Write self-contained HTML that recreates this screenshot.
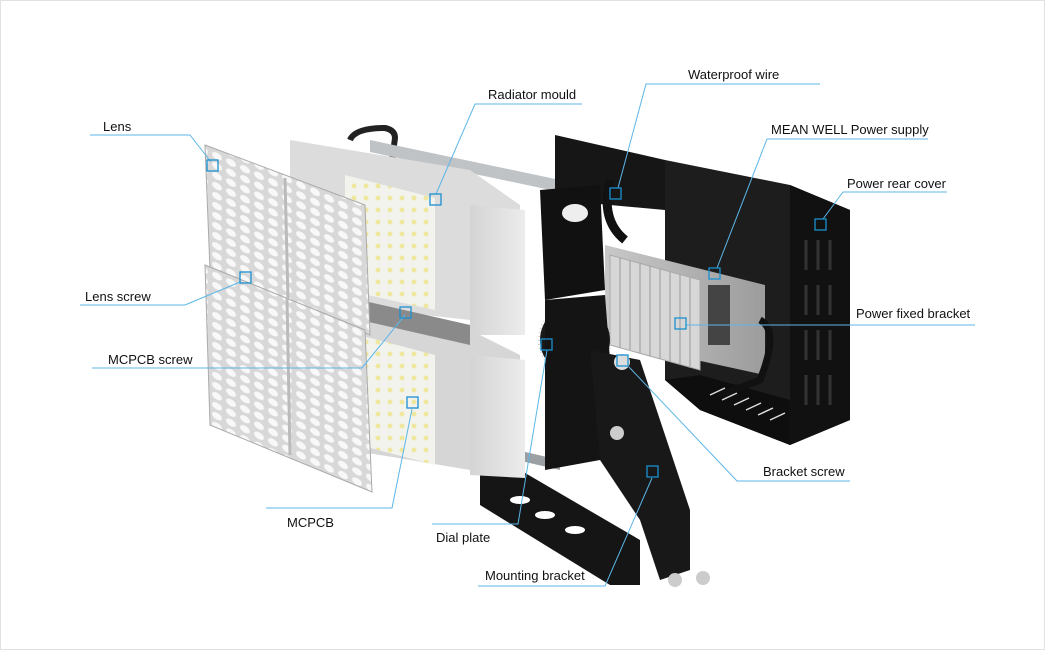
<!DOCTYPE html>
<html><head><meta charset="utf-8"><style>
html,body{margin:0;padding:0;background:#fff;}
svg{display:block}
text{font-family:"Liberation Sans",sans-serif;font-size:13px;fill:#111}
</style></head><body>
<svg width="1045" height="650" viewBox="0 0 1045 650" xmlns="http://www.w3.org/2000/svg">
<defs>
<linearGradient id="rad" x1="0" y1="0" x2="1" y2="0"><stop offset="0" stop-color="#d4d4d4"/><stop offset="1" stop-color="#ececec"/></linearGradient>
<linearGradient id="lens" x1="0" y1="0" x2="1" y2="1"><stop offset="0" stop-color="#e6e6e6"/><stop offset="1" stop-color="#b9b9b9"/></linearGradient>
<linearGradient id="ps" x1="0" y1="0" x2="1" y2="0"><stop offset="0" stop-color="#c8c8c8"/><stop offset="1" stop-color="#9c9c9c"/></linearGradient>
<pattern id="leds" width="12" height="12" patternUnits="userSpaceOnUse"><rect width="12" height="12" fill="#f3f3ee"/><circle cx="6" cy="6" r="2.5" fill="#efe7a0"/></pattern>
<pattern id="lensp" width="14" height="10" patternUnits="userSpaceOnUse" patternTransform="skewY(25)"><rect width="14" height="10" fill="#d8d8d8"/><ellipse cx="7" cy="5" rx="5" ry="3.5" fill="#f8f8f8"/></pattern>
</defs>
<rect x="0.5" y="0.5" width="1044" height="649" fill="#fff" stroke="#e2e2e2"/>

<!-- rods / handle -->
<path d="M350 140 Q355 128 385 128 Q395 130 395 138 L392 160" fill="none" stroke="#222" stroke-width="6"/>
<polygon points="370,140 560,180 560,192 370,152" fill="#bfc3c6"/>
<polygon points="430,430 560,460 560,470 430,440" fill="#9aa0a4"/>

<!-- rear cover -->
<polygon points="555,135 665,160 665,210 555,200" fill="#161616"/>
<polygon points="665,160 790,185 850,210 850,420 790,445 700,410 665,380" fill="#1d1d1d"/>
<polygon points="790,185 850,210 850,420 790,445" fill="#111"/>
<g stroke="#333" stroke-width="3">
<line x1="806" y1="240" x2="806" y2="270"/><line x1="818" y1="240" x2="818" y2="270"/><line x1="830" y1="240" x2="830" y2="270"/>
<line x1="806" y1="285" x2="806" y2="315"/><line x1="818" y1="285" x2="818" y2="315"/><line x1="830" y1="285" x2="830" y2="315"/>
<line x1="806" y1="330" x2="806" y2="360"/><line x1="818" y1="330" x2="818" y2="360"/><line x1="830" y1="330" x2="830" y2="360"/>
<line x1="806" y1="375" x2="806" y2="405"/><line x1="818" y1="375" x2="818" y2="405"/><line x1="830" y1="375" x2="830" y2="405"/>
</g>
<polygon points="665,380 700,375 790,400 790,445 700,410" fill="#0e0e0e"/>
<g stroke="#ddd" stroke-width="1.5"><line x1="710" y1="395" x2="725" y2="388"/><line x1="722" y1="400" x2="737" y2="393"/><line x1="734" y1="405" x2="749" y2="398"/><line x1="746" y1="410" x2="761" y2="403"/><line x1="758" y1="415" x2="773" y2="408"/><line x1="770" y1="420" x2="785" y2="413"/></g>

<!-- power supply -->
<polygon points="605,245 765,285 765,375 605,340" fill="url(#ps)"/>
<polygon points="610,255 700,280 700,370 610,345" fill="#d7d7d7" stroke="#aaa"/>
<g stroke="#999" stroke-width="1"><line x1="620" y1="258" x2="620" y2="348"/><line x1="630" y1="260" x2="630" y2="350"/><line x1="640" y1="263" x2="640" y2="353"/><line x1="650" y1="266" x2="650" y2="356"/><line x1="660" y1="269" x2="660" y2="359"/><line x1="670" y1="272" x2="670" y2="362"/><line x1="680" y1="275" x2="680" y2="365"/><line x1="690" y1="278" x2="690" y2="368"/></g>
<rect x="708" y="285" width="22" height="60" fill="#444"/>
<path d="M760 320 Q780 330 760 380 L720 395" fill="none" stroke="#111" stroke-width="7"/>
<path d="M610 180 Q600 220 625 240" fill="none" stroke="#111" stroke-width="9"/>

<!-- mounting bracket -->
<polygon points="480,470 520,470 640,540 640,585 610,585 480,505" fill="#151515"/>
<polygon points="540,190 600,185 605,290 545,300" fill="#111"/>
<circle cx="575" cy="340" r="35" fill="#1a1a1a"/>
<circle cx="575" cy="340" r="36" fill="none" stroke="#ccc" stroke-width="2" stroke-dasharray="1 3"/>
<polygon points="545,300 605,295 610,360 600,460 545,470" fill="#141414"/>
<polygon points="590,350 640,360 690,510 690,570 660,580 640,520 600,460" fill="#181818"/>
<ellipse cx="575" cy="213" rx="13" ry="9" fill="#eee"/>
<circle cx="622" cy="362" r="8" fill="#ddd"/><circle cx="617" cy="433" r="7" fill="#ccc"/>
<circle cx="675" cy="580" r="7" fill="#ccc"/><circle cx="703" cy="578" r="7" fill="#ccc"/>
<ellipse cx="520" cy="500" rx="10" ry="4" fill="#fff"/><ellipse cx="545" cy="515" rx="10" ry="4" fill="#fff"/><ellipse cx="575" cy="530" rx="10" ry="4" fill="#fff"/>

<!-- radiators -->
<polygon points="290,140 470,170 520,205 520,335 470,320 290,300" fill="#dcdcdc"/>
<polygon points="470,205 525,210 525,335 470,335" fill="url(#rad)"/>
<polygon points="345,175 435,198 435,310 345,290" fill="url(#leds)"/>
<polygon points="290,305 470,330 520,355 520,475 470,470 290,440" fill="#d6d6d6"/>
<polygon points="470,355 525,360 525,478 470,475" fill="url(#rad)"/>
<polygon points="340,330 435,355 435,465 340,440" fill="url(#leds)"/>
<polygon points="360,300 470,325 470,345 360,320" fill="#8a8a8a"/>

<!-- lenses -->
<polygon points="205,145 365,205 370,335 210,270" fill="url(#lensp)" stroke="#aaa"/>
<polygon points="205,265 365,330 372,492 210,425" fill="url(#lensp)" stroke="#aaa"/>
<line x1="285" y1="178" x2="288" y2="300" stroke="#bbb" stroke-width="3"/>
<line x1="287" y1="298" x2="290" y2="455" stroke="#bbb" stroke-width="3"/>

<!-- leader lines -->
<g fill="none" stroke="#5cb6e8" stroke-width="1">
<polyline points="90,135 190,135 211,162"/>
<polyline points="80,305 185,305 240,282"/>
<polyline points="92,368 362,368 405,315"/>
<polyline points="266,508 392,508 412,409"/>
<polyline points="582,104 475,104 436,194"/>
<polyline points="820,84 646,84 618,188"/>
<polyline points="928,139 767,139 717,268"/>
<polyline points="947,192 843,192 823,219"/>
<polyline points="975,325 686,325"/>
<polyline points="850,481 737,481 629,367"/>
<polyline points="432,524 518,524 547,350"/>
<polyline points="478,586 605,586 652,478"/>
</g>
<g fill="none" stroke="#1a90d0" stroke-width="1.3">
<rect x="207" y="160" width="11" height="11"/>
<rect x="240" y="272" width="11" height="11"/>
<rect x="400" y="307" width="11" height="11"/>
<rect x="407" y="397" width="11" height="11"/>
<rect x="430" y="194" width="11" height="11"/>
<rect x="610" y="188" width="11" height="11"/>
<rect x="709" y="268" width="11" height="11"/>
<rect x="815" y="219" width="11" height="11"/>
<rect x="675" y="318" width="11" height="11"/>
<rect x="617" y="355" width="11" height="11"/>
<rect x="541" y="339" width="11" height="11"/>
<rect x="647" y="466" width="11" height="11"/>
</g>

<!-- labels -->
<text x="103" y="131">Lens</text>
<text x="85" y="301">Lens screw</text>
<text x="108" y="364">MCPCB screw</text>
<text x="287" y="527">MCPCB</text>
<text x="488" y="99">Radiator mould</text>
<text x="688" y="79">Waterproof wire</text>
<text x="771" y="134">MEAN WELL Power supply</text>
<text x="847" y="188">Power rear cover</text>
<text x="856" y="318">Power fixed bracket</text>
<text x="763" y="476">Bracket screw</text>
<text x="436" y="542">Dial plate</text>
<text x="485" y="580">Mounting bracket</text>
</svg>
</body></html>
